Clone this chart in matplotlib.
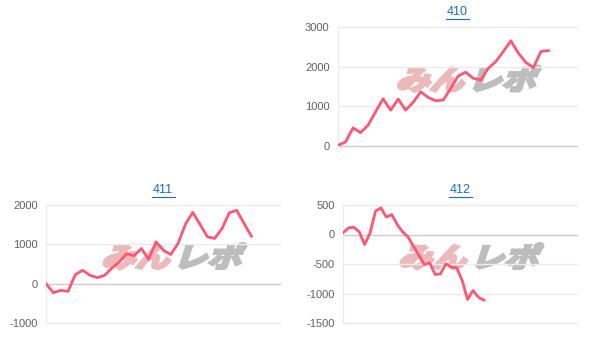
import matplotlib as mpl
mpl.use('Agg')
import matplotlib.pyplot as plt
from matplotlib.textpath import TextPath
from matplotlib.patches import PathPatch
from matplotlib.font_manager import FontProperties
from matplotlib.transforms import Affine2D, IdentityTransform

plt.rcParams['font.family'] = ['Liberation Sans', 'DejaVu Sans']

titles = ["410", "411", "412"]
vals410 = [17, 101, 456, 338, 524, 862, 1191, 904, 1183, 904, 1098, 1369, 1225, 1141, 1158,
           1453, 1766, 1859, 1707, 1665, 1960, 2129, 2383, 2653, 2341, 2104, 1977, 2383, 2408]
vals411 = [0, -230, -170, -196, 230, 340, 213, 153, 213, 400, 553, 766, 706, 894, 621,
           1064, 851, 740, 1021, 1506, 1813, 1506, 1191, 1149, 1404, 1804, 1864, 1532, 1208]
vals412 = [28, 113, 124, 45, -170, 28, 396, 452, 294, 339, 170, 45, -40, -198, -350,
           -509, -480, -678, -667, -497, -554, -565, -780, -1102, -949, -1062, -1113]
ticks410 = [0, 1000, 2000, 3000]
ticks411 = [-1000, 0, 1000, 2000]
ticks412 = [-1500, -1000, -500, 0, 500]

W, H = 607, 357
fig = plt.figure(figsize=(W / 100, H / 100), dpi=100)

LINE = '#ff5773'
GRID = '#ebebeb'


def panel(box, title, vals, ticks, xmax):
    l, t, r, b = box
    ax = fig.add_axes([l / W, 1 - b / H, (r - l) / W, (b - t) / H])
    ax.patch.set_visible(False)
    ax.plot(range(len(vals)), vals, color=LINE, lw=2.0, solid_joinstyle='round', zorder=3)
    ax.set_xlim(0, xmax)
    ax.set_ylim(ticks[0], ticks[-1])
    ax.set_yticks(ticks)
    ax.set_yticklabels([str(v) for v in ticks])
    ax.set_xticks([])
    for v in ticks:
        c = '#cccccc' if v == 0 else GRID
        ax.axhline(v, color=c, lw=1.0, zorder=1, clip_on=False)
    for s in ['top', 'right', 'bottom']:
        ax.spines[s].set_visible(False)
    ax.spines['left'].set_color(GRID)
    ax.tick_params(axis='y', length=0, pad=6, labelsize=8, labelcolor='#606060')
    fig.text((l + r) / 2 / W, 1 - (t - 15) / H, title, ha='center', va='center',
             fontsize=9, color='#1a6dc4')
    # underline of the link title
    fig.add_artist(plt.Line2D([((l + r) / 2 - 11.5) / W, ((l + r) / 2 + 11.5) / W],
                              [1 - (t - 8.5) / H] * 2, color='#1a6dc4', lw=0.8))
    # watermark
    cx = (l + r) / 2 + 10
    cy = H - ((t + b) / 2 - 8)
    fp = FontProperties(family='Noto Sans CJK JP', weight='bold')
    for txt, col, dx in [("みん", '#ebb9b9', -72), ("レポ", '#bdbdbd', 0)]:
        p = TextPath((0, 0), txt, size=34, prop=fp)
        tr = Affine2D().scale(1.0, 0.8).skew_deg(18, 0).translate(cx + dx, cy - 11)
        fig.add_artist(PathPatch(tr.transform_path(p), facecolor=col, edgecolor=col,
                                 lw=2.2, transform=IdentityTransform(), zorder=-1))
    return ax


panel((338, 27, 577, 146), titles[0], vals410, ticks410, 31.8)
panel((46, 205, 280, 323), titles[1], vals411, ticks411, 31.9)
panel((343, 205, 577, 323), titles[2], vals412, ticks412, 43.2)

fig.savefig('out.png', dpi=100)
